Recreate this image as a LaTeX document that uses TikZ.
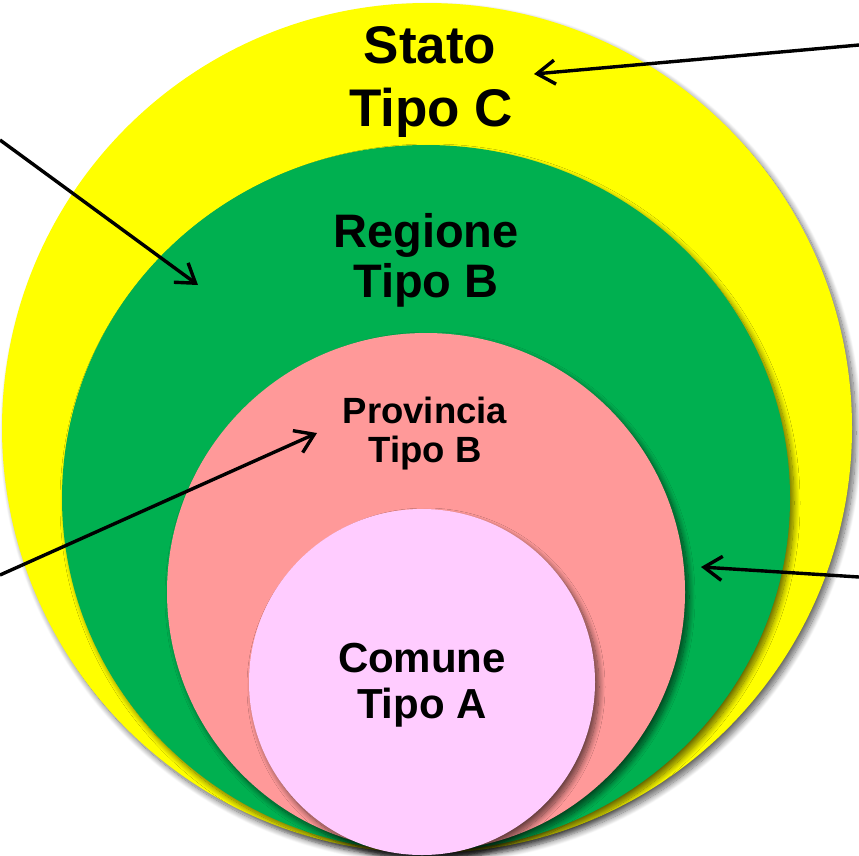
\documentclass[tikz,border=0pt]{standalone}
\usepackage{fontspec}
\setmainfont{Liberation Sans}
\usetikzlibrary{shapes.geometric,arrows.meta,shadows.blur}
\definecolor{cStato}{HTML}{FFFF00}
\definecolor{cRegione}{HTML}{00B050}
\definecolor{cProv}{HTML}{FF9999}
\definecolor{cComune}{HTML}{FFCCFF}
\tikzset{
  area/.style={inner sep=0pt, outer sep=0pt, draw=none,
    blur shadow={shadow xshift=4pt, shadow yshift=-5pt, shadow blur radius=6pt, shadow blur steps=14, shadow opacity=60}},
  lbl/.style={anchor=base, inner sep=0pt, font=\bfseries},
  pointer/.style={line width=3.4pt, -{Straight Barb[length=18pt,width=24pt,line width=3.4pt]}}
}
\begin{document}
\begin{tikzpicture}[x=1pt,y=-1pt]
\useasboundingbox (0,0) rectangle (859,855);
\node[area, circle, fill=cStato, minimum size=850pt] (stato) at (427,428) {};
\node[area, ellipse, fill=cRegione, minimum width=728pt, minimum height=706pt] (regione) at (426,498) {};
\node[area, circle, fill=cProv, minimum size=518pt] (provincia) at (426,592) {};
\node[area, circle, fill=cComune, minimum size=346pt] (comune) at (422,682) {};

\node[lbl, font=\fontsize{53}{60}\selectfont\bfseries] (t1) at (430,63) {Stato};
\node[lbl, font=\fontsize{53}{60}\selectfont\bfseries] (t2) at (431,126) {Tipo C};
\node[lbl, font=\fontsize{47}{52}\selectfont\bfseries] (t3) at (426,247) {Regione};
\node[lbl, font=\fontsize{47}{52}\selectfont\bfseries] (t4) at (426,297) {Tipo B};
\node[lbl, font=\fontsize{36.5}{42}\selectfont\bfseries] (t5) at (425,423) {Provincia};
\node[lbl, font=\fontsize{36.5}{42}\selectfont\bfseries] (t6) at (425,462) {Tipo B};
\node[lbl, font=\fontsize{42}{48}\selectfont\bfseries] (t7) at (422,672) {Comune};
\node[lbl, font=\fontsize{42}{48}\selectfont\bfseries] (t8) at (422,718) {Tipo A};

\coordinate (s1) at (859,45);  \coordinate (e1) at (534,74);
\coordinate (s2) at (0,140);   \coordinate (e2) at (198,285);
\coordinate (s3) at (0,575);   \coordinate (e3) at (317,433);
\coordinate (s4) at (859,577); \coordinate (e4) at (701,567);
\draw[pointer] (s1) -- (e1);
\draw[pointer] (s2) -- (e2);
\draw[pointer] (s3) -- (e3);
\draw[pointer] (s4) -- (e4);
\end{tikzpicture}
\end{document}
